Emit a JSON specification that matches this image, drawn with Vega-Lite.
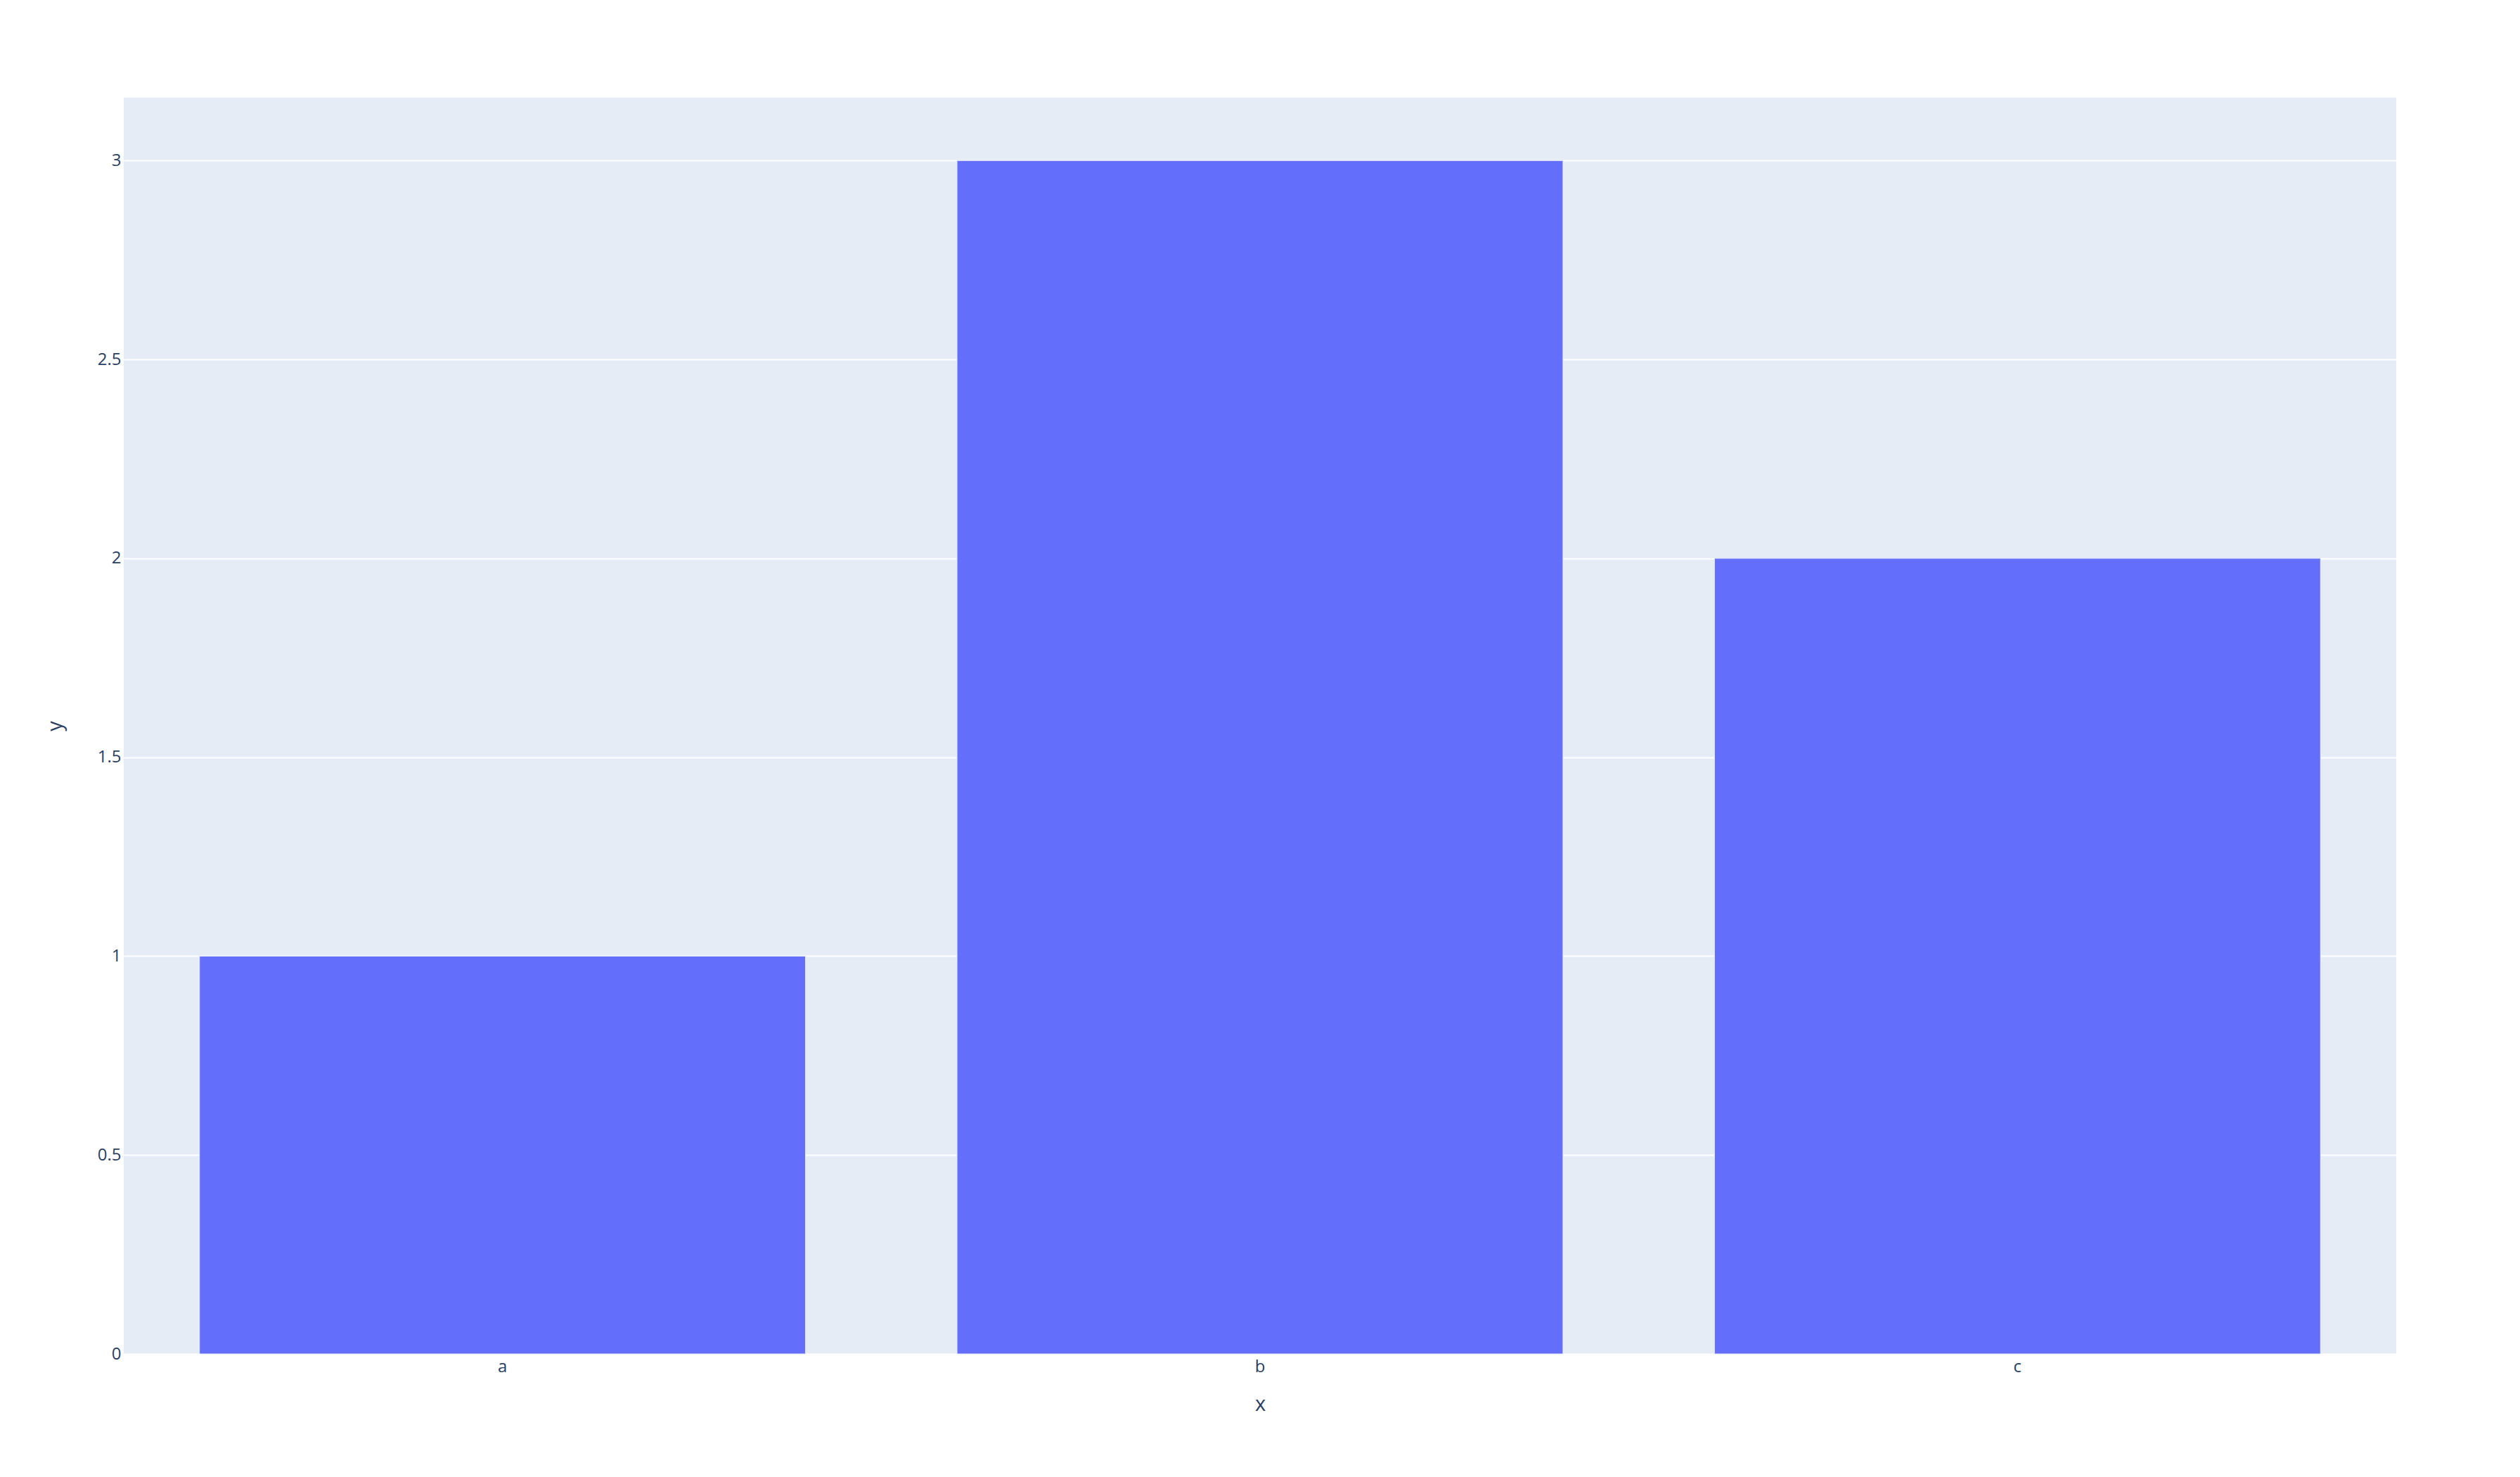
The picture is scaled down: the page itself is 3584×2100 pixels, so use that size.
{
  "$schema": "https://vega.github.io/schema/vega-lite/v6.json",
  "autosize": {"type": "none"},
  "padding": {"left": 176, "top": 139, "right": 176, "bottom": 175},
  "width": 3232,
  "height": 1786,
  "background": "white",
  "config": {
    "view": {"fill": "#E5ECF6", "stroke": null},
    "font": "Open Sans"
  },
  "data": {"values": [
    {"x": "a", "y": 1},
    {"x": "b", "y": 3},
    {"x": "c", "y": 2}
  ]},
  "mark": {"type": "bar", "color": "#636EFA", "stroke": "#E5ECF6", "strokeWidth": 1},
  "encoding": {
    "x": {
      "field": "x", "type": "nominal",
      "scale": {"paddingInner": 0.2, "paddingOuter": 0.1},
      "axis": {
        "title": "x", "labelAngle": 0, "domain": false, "ticks": false, "grid": false,
        "labelFont": "Open Sans", "labelFontSize": 24, "labelColor": "#2a3f5f",
        "labelBaseline": "alphabetic", "labelPadding": 25,
        "titleFont": "Open Sans", "titleFontSize": 29, "titleFontWeight": "normal", "titleColor": "#2a3f5f",
        "titleBaseline": "alphabetic", "titleX": 1616, "titleY": 80, "titleAlign": "center"
      }
    },
    "y": {
      "field": "y", "type": "quantitative",
      "scale": {"domain": [0, 3.1579], "nice": false, "zero": true},
      "axis": {
        "title": "y", "values": [0, 0.5, 1, 1.5, 2, 2.5, 3], "format": "~g",
        "domain": false, "ticks": false, "grid": true, "gridColor": "white", "gridWidth": 2,
        "labelFont": "Open Sans", "labelFontSize": 24, "labelColor": "#2a3f5f",
        "labelPadding": 4, "labelBaseline": "middle",
        "titleFont": "Open Sans", "titleFontSize": 29, "titleFontWeight": "normal", "titleColor": "#2a3f5f",
        "titleAngle": -90, "titleX": -98, "titleY": 893, "titleAlign": "center", "titleBaseline": "middle"
      }
    }
  }
}
